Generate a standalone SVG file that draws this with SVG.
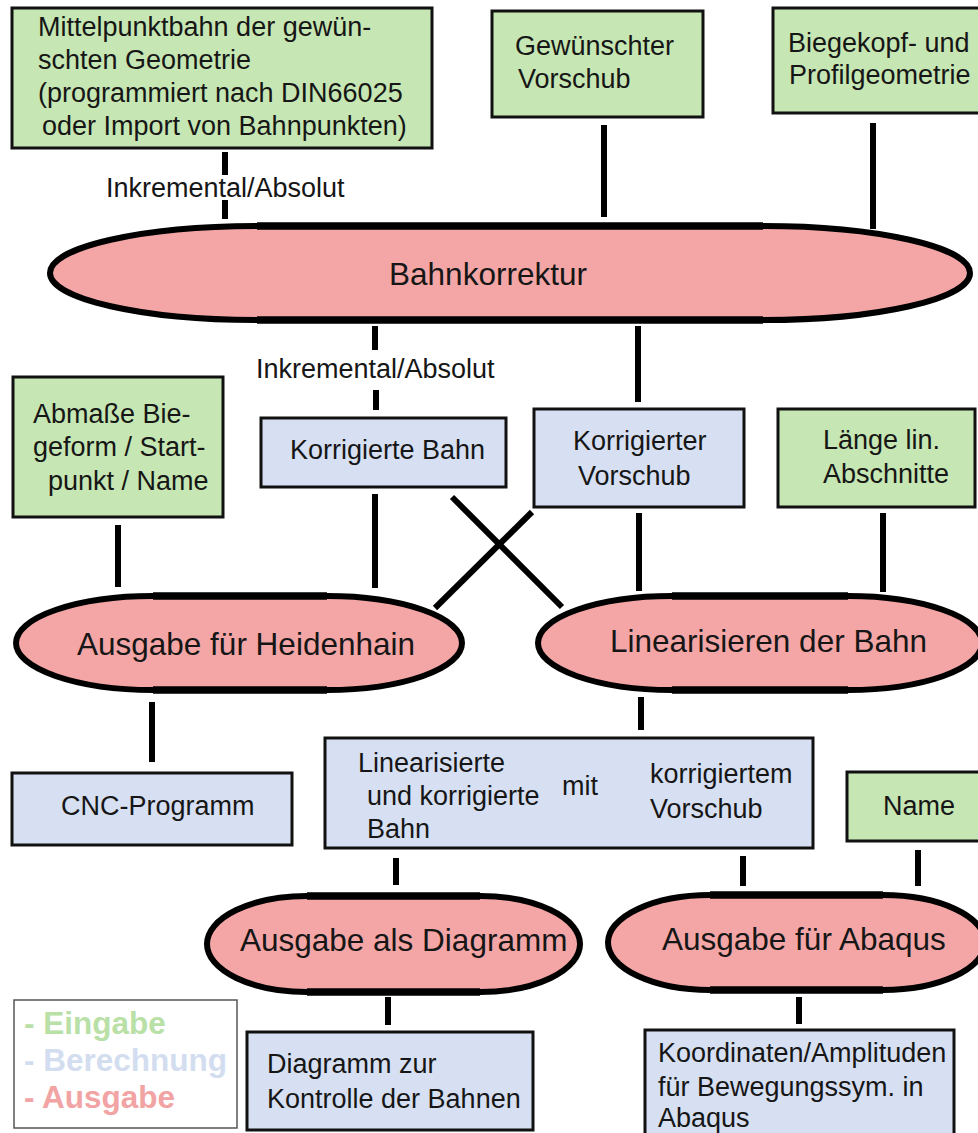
<svg xmlns="http://www.w3.org/2000/svg" width="978" height="1133" viewBox="0 0 978 1133">
  <style>
    .in { fill: #c6e6b3; stroke: #111; stroke-width: 3; }
    .calc { fill: #d6e0f2; stroke: #111; stroke-width: 3; }
    .out { fill: #f4a6a6; stroke: #000; stroke-width: 6; }
    .flat { fill: none; stroke: #000; stroke-width: 7.5; }
    .t { font-family: "Liberation Sans", Arial, sans-serif; font-size: 27px; fill: #161616; }
    .big { font-family: "Liberation Sans", Arial, sans-serif; font-size: 31.5px; fill: #161616; }
    .lg { font-family: "Liberation Sans", Arial, sans-serif; font-size: 31.5px; font-weight: bold; }
    .conn line { stroke: #000; stroke-width: 6; }
  </style>

  <rect width="978" height="1133" fill="#ffffff"/>

  <!-- connectors -->
  <g id="connectors" class="conn">
    <line x1="225" y1="152" x2="225" y2="175"/>
    <line x1="225" y1="200" x2="225" y2="219"/>
    <line x1="604" y1="125" x2="604" y2="217"/>
    <line x1="873" y1="123" x2="873" y2="229"/>
    <line x1="375" y1="326" x2="375" y2="350"/>
    <line x1="376" y1="390" x2="376" y2="410"/>
    <line x1="638" y1="326" x2="638" y2="402"/>
    <line x1="375" y1="494" x2="375" y2="588"/>
    <line x1="118" y1="525" x2="118" y2="587"/>
    <line x1="452" y1="497" x2="562" y2="607"/>
    <line x1="532" y1="512" x2="435" y2="608"/>
    <line x1="639" y1="513" x2="639" y2="591"/>
    <line x1="883" y1="513" x2="883" y2="592"/>
    <line x1="641" y1="697" x2="641" y2="730"/>
    <line x1="152" y1="702" x2="152" y2="762"/>
    <line x1="396" y1="858" x2="396" y2="885"/>
    <line x1="743" y1="856" x2="743" y2="886"/>
    <line x1="918" y1="850" x2="918" y2="886"/>
    <line x1="388" y1="997" x2="388" y2="1025"/>
    <line x1="799" y1="997" x2="799" y2="1024"/>
  </g>

  <!-- connector labels -->
  <g id="labels">
    <text class="t" x="106" y="197">Inkremental/Absolut</text>
    <text class="t" x="256" y="378">Inkremental/Absolut</text>
  </g>

  <!-- inputs -->
  <g id="mittelpunktbahn">
    <rect class="in" x="12" y="8" width="420" height="140"/>
    <text class="t" x="38" y="36">Mittelpunktbahn der gewün-</text>
    <text class="t" x="38" y="69">schten Geometrie</text>
    <text class="t" x="38" y="102">(programmiert nach DIN66025</text>
    <text class="t" x="42" y="135">oder Import von Bahnpunkten)</text>
  </g>

  <g id="vorschub">
    <rect class="in" x="492" y="11" width="211" height="106"/>
    <text class="t" x="515" y="55">Gewünschter</text>
    <text class="t" x="518" y="88">Vorschub</text>
  </g>

  <g id="biegekopf">
    <rect class="in" x="773" y="8" width="215" height="105"/>
    <text class="t" x="788" y="52">Biegekopf- und</text>
    <text class="t" x="789" y="84">Profilgeometrie</text>
  </g>

  <g id="abmasse">
    <rect class="in" x="13" y="377" width="210" height="140"/>
    <text class="t" x="33" y="423">Abmaße Bie-</text>
    <text class="t" x="33" y="456">geform / Start-</text>
    <text class="t" x="48" y="490">punkt / Name</text>
  </g>

  <g id="laenge">
    <rect class="in" x="778" y="409" width="197" height="98"/>
    <text class="t" x="823" y="449">Länge lin.</text>
    <text class="t" x="823" y="483">Abschnitte</text>
  </g>

  <g id="name">
    <rect class="in" x="847" y="772" width="140" height="69"/>
    <text class="t" x="883" y="815">Name</text>
  </g>

  <!-- processing / outputs -->
  <g id="bahnkorrektur">
    <path class="out" d="M257,226 L763,226 A207,47 0 0 1 970,273 A207,47 0 0 1 763,320 L257,320 A207,47 0 0 1 50,273 A207,47 0 0 1 257,226 Z"/>
    <path class="flat" d="M257,226 L763,226 M257,320 L763,320"/>
    <text class="big" x="488" y="285" text-anchor="middle">Bahnkorrektur</text>
  </g>

  <g id="korrigierte-bahn">
    <rect class="calc" x="261" y="418" width="245" height="69"/>
    <text class="t" x="290" y="459">Korrigierte Bahn</text>
  </g>

  <g id="korrigierter-vorschub">
    <rect class="calc" x="534" y="409" width="210" height="98"/>
    <text class="t" x="573" y="450">Korrigierter</text>
    <text class="t" x="578" y="485">Vorschub</text>
  </g>

  <g id="heidenhain">
    <path class="out" d="M153,596 L327,596 A135,47 0 0 1 462,643 A135,47 0 0 1 327,690 L153,690 A137,47 0 0 1 16,643 A137,47 0 0 1 153,596 Z"/>
    <path class="flat" d="M153,596 L327,596 M153,690 L327,690"/>
    <text class="big" x="77" y="655">Ausgabe für Heidenhain</text>
  </g>

  <g id="linearisieren">
    <path class="out" d="M672,596 L848,596 A134,47 0 0 1 982,643 A134,47 0 0 1 848,690 L672,690 A134,47 0 0 1 538,643 A134,47 0 0 1 672,596 Z"/>
    <path class="flat" d="M672,596 L848,596 M672,690 L848,690"/>
    <text class="big" x="610" y="652">Linearisieren der Bahn</text>
  </g>

  <g id="cnc-programm">
    <rect class="calc" x="12" y="773" width="280" height="72"/>
    <text class="t" x="61" y="815">CNC-Programm</text>
  </g>

  <g id="linearisierte-bahn">
    <rect class="calc" x="325" y="738" width="488" height="110"/>
    <text class="t" x="358" y="772">Linearisierte</text>
    <text class="t" x="367" y="805">und korrigierte</text>
    <text class="t" x="367" y="838">Bahn</text>
    <text class="t" x="562" y="795">mit</text>
    <text class="t" x="650" y="783">korrigiertem</text>
    <text class="t" x="650" y="818">Vorschub</text>
  </g>

  <g id="diagramm">
    <path class="out" d="M307,896 L480,896 A100,48 0 0 1 580,944 A100,48 0 0 1 480,992 L307,992 A100,48 0 0 1 207,944 A100,48 0 0 1 307,896 Z"/>
    <path class="flat" d="M307,896 L480,896 M307,992 L480,992"/>
    <text class="big" x="240" y="951">Ausgabe als Diagramm</text>
  </g>

  <g id="abaqus">
    <path class="out" d="M710,895 L883,895 A102,47.5 0 0 1 985,942.5 A102,47.5 0 0 1 883,990 L710,990 A102,47.5 0 0 1 608,942.5 A102,47.5 0 0 1 710,895 Z"/>
    <path class="flat" d="M710,895 L883,895 M710,990 L883,990"/>
    <text class="big" x="662" y="950">Ausgabe für Abaqus</text>
  </g>

  <g id="diagramm-kontrolle">
    <rect class="calc" x="247" y="1032" width="286" height="98"/>
    <text class="t" x="267" y="1073">Diagramm zur</text>
    <text class="t" x="267" y="1108">Kontrolle der Bahnen</text>
  </g>

  <g id="koordinaten">
    <rect class="calc" x="645" y="1030" width="309" height="110"/>
    <text class="t" x="658" y="1062">Koordinaten/Amplituden</text>
    <text class="t" x="658" y="1096">für Bewegungssym. in</text>
    <text class="t" x="658" y="1127">Abaqus</text>
  </g>

  <!-- legend -->
  <g id="legend">
    <rect x="14" y="1000" width="223" height="128" fill="#ffffff" stroke="#555" stroke-width="1.5"/>
    <text class="lg" x="24" y="1034" fill="#b9e0a6">- Eingabe</text>
    <text class="lg" x="24" y="1071" fill="#d3ddf0">- Berechnung</text>
    <text class="lg" x="24" y="1108" fill="#f2a3a3">- Ausgabe</text>
  </g>
</svg>
